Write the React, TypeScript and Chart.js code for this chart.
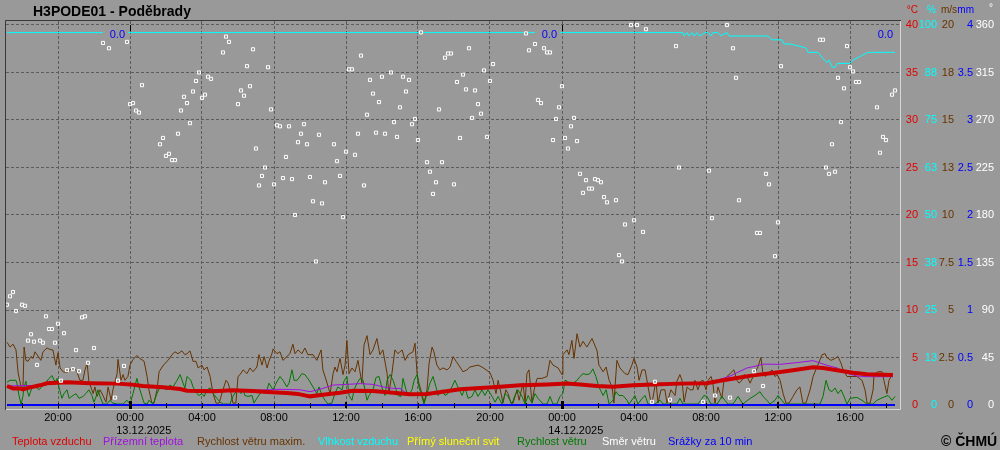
import React, { useEffect, useRef } from 'react';
import { Chart, registerables } from 'chart.js';

Chart.register(...registerables);

// ---------- DATA (time = minutes from 13.12.2025 00:00) ----------
const stationTitle = 'H3PODE01 - Poděbrady';

const timeTicks = [-360, -240, -120, 0, 120, 240, 360, 480, 600, 720, 840, 960, 1080, 1200, 1320, 1440, 1560, 1680, 1800, 1920, 2040, 2160, 2280, 2400, 2520];
const timeTickLabels = ['', '20:00', '', '00:00', '', '04:00', '', '08:00', '', '12:00', '', '16:00', '', '20:00', '', '00:00', '', '04:00', '', '08:00', '', '12:00', '', '16:00', ''];
const dateTicks = [0, 1440];
const dateLabels = ['13.12.2025', '14.12.2025'];

const tempTicks = [0, 5, 10, 15, 20, 25, 30, 35, 40];
const tempLabels = ['0', '5', '10', '15', '20', '25', '30', '35', '40'];
const humTicks = [0, 12.5, 25, 37.5, 50, 62.5, 75, 87.5, 100];
const humLabels = ['0', '13', '25', '38', '50', '63', '75', '88', '100'];
const windTicks = [0, 2.5, 5, 7.5, 10, 12.5, 15, 17.5, 20];
const windLabels = ['0', '2.5', '5', '7.5', '10', '13', '15', '18', '20'];
const rainTicks = [0, 0.5, 1, 1.5, 2, 2.5, 3, 3.5, 4];
const rainLabels = ['0', '0.5', '1', '1.5', '2', '2.5', '3', '3.5', '4'];
const dirTicks = [0, 45, 90, 135, 180, 225, 270, 315, 360];
const dirLabels = ['0', '45', '90', '135', '180', '225', '270', '315', '360'];

// Teplota vzduchu (°C)
const tempMin = [-410, -390, -367, -357, -333, -300, -277, -210, -133, -43, 0, 43, 110, 167, 190, 277, 343, 410, 457, 523, 560, 567, 600, 643, 700, 743, 810, 877, 933, 990, 1043, 1100, 1167, 1223, 1300, 1390, 1457, 1500, 1557, 1610, 1677, 1743, 1833, 1923, 1967, 2023, 2077, 2143, 2210, 2277, 2310, 2357, 2410, 2457, 2543];
const tempC = [2.0, 1.75, 1.75, 1.65, 1.86, 2.07, 2.28, 2.39, 2.3, 2.25, 2.17, 2.0, 1.86, 1.68, 1.5, 1.44, 1.54, 1.47, 1.37, 1.26, 1.16, 1.12, 0.91, 1.09, 1.3, 1.5, 1.47, 1.3, 1.12, 1.16, 1.4, 1.65, 1.79, 1.9, 2.07, 2.17, 2.25, 2.17, 2.0, 1.93, 2.07, 2.17, 2.25, 2.3, 2.56, 2.84, 3.12, 3.37, 3.65, 3.97, 3.9, 3.65, 3.4, 3.23, 3.16];

// Přízemní teplota (°C)
const groundMin = [-410, -300, -210, -133, 0, 110, 167, 190, 277, 343, 410, 457, 500, 567, 600, 643, 677, 723, 767, 810, 850, 877, 900, 917, 933, 990, 1043, 1100, 1167, 1223, 1300, 1390, 1457, 1500, 1557, 1610, 1677, 1743, 1833, 1923, 1953, 1967, 2000, 2023, 2057, 2077, 2110, 2167, 2223, 2277, 2323, 2357, 2390, 2423, 2457, 2543];
const groundC = [2.0, 2.07, 2.39, 2.3, 2.17, 1.86, 1.68, 1.62, 1.6, 1.6, 1.55, 1.6, 1.65, 1.6, 1.4, 1.75, 2.1, 2.17, 2.25, 2.17, 1.86, 1.75, 1.75, 1.33, 1.12, 1.16, 1.4, 1.65, 1.79, 1.9, 2.07, 2.17, 2.25, 2.17, 2.0, 1.93, 2.07, 2.17, 2.25, 2.3, 2.5, 2.7, 3.05, 3.4, 3.9, 4.03, 4.3, 4.28, 4.46, 4.67, 4.18, 3.9, 3.33, 3.05, 2.98, 2.98];

// Rychlost větru maxim. (m/s)
const gustMin = [-410, -400, -390, -380, -373, -363, -357, -353, -347, -340, -330, -323, -317, -310, -297, -290, -277, -263, -257, -247, -240, -233, -223, -210, -200, -187, -177, -167, -157, -150, -143, -137, -123, -117, -110, -100, -90, -80, -73, -63, -57, -43, -40, -30, -23, -17, -7, 0, 10, 23, 33, 47, 57, 63, 73, 80, 90, 97, 107, 117, 127, 140, 150, 160, 173, 183, 190, 200, 210, 220, 227, 240, 247, 257, 267, 277, 287, 297, 310, 320, 327, 337, 343, 353, 360, 367, 377, 390, 400, 410, 423, 430, 440, 447, 457, 463, 473, 477, 490, 500, 510, 523, 533, 543, 550, 560, 573, 583, 593, 610, 623, 637, 643, 657, 667, 677, 683, 690, 700, 710, 717, 723, 730, 740, 750, 760, 773, 780, 790, 800, 810, 823, 833, 843, 857, 863, 873, 883, 893, 907, 917, 927, 943, 950, 957, 963, 973, 980, 990, 997, 1007, 1013, 1023, 1033, 1043, 1057, 1067, 1077, 1087, 1100, 1110, 1123, 1133, 1147, 1160, 1173, 1187, 1200, 1210, 1220, 1227, 1237, 1243, 1253, 1260, 1270, 1277, 1290, 1297, 1310, 1317, 1323, 1330, 1340, 1347, 1357, 1373, 1390, 1400, 1410, 1427, 1440, 1443, 1457, 1463, 1473, 1480, 1490, 1500, 1510, 1523, 1540, 1557, 1563, 1577, 1587, 1597, 1607, 1613, 1623, 1633, 1650, 1660, 1673, 1680, 1690, 1697, 1707, 1717, 1727, 1737, 1743, 1753, 1760, 1770, 1783, 1790, 1803, 1817, 1823, 1833, 1840, 1847, 1857, 1867, 1877, 1883, 1893, 1903, 1910, 1920, 1927, 1937, 1943, 1950, 1960, 1973, 1980, 1990, 2000, 2013, 2023, 2030, 2040, 2047, 2057, 2067, 2077, 2093, 2103, 2110, 2117, 2127, 2140, 2150, 2157, 2167, 2177, 2187, 2197, 2210, 2223, 2233, 2243, 2253, 2267, 2277, 2290, 2307, 2317, 2323, 2337, 2350, 2360, 2370, 2377, 2390, 2407, 2423, 2440, 2450, 2457, 2467, 2477, 2480, 2493, 2507, 2513, 2523, 2530, 2540];
const gustMs = [3.3, 3.05, 3.2, 2.9, 1.7, 0.95, 0.8, 3.05, 2.35, 2.3, 2.55, 2.45, 2.8, 2.65, 2.35, 2.8, 3.0, 2.9, 2.9, 2.1, 2.75, 1.95, 1.75, 1.7, 1.85, 1.95, 1.75, 1.3, 1.3, 1.85, 2.2, 1.25, 0.6, 0.95, 0.45, 0.8, 0.5, 0.15, 0.95, 0.25, 0.8, 1.65, 2.4, 1.3, 1.6, 1.3, 1.5, 2.1, 2.4, 2.6, 2.45, 2.3, 1.5, 0.8, 0.1, 0.1, 0.8, 1.75, 2.0, 2.2, 2.35, 2.65, 2.8, 2.7, 2.85, 2.65, 2.7, 2.85, 2.3, 2.3, 1.95, 2.1, 1.85, 2.0, 1.5, 0.6, 0.1, 0.1, 0.8, 1.3, 1.15, 0.6, 0.1, 0.1, 1.5, 1.6, 1.85, 1.65, 1.95, 1.75, 2.0, 2.65, 2.1, 2.55, 1.95, 2.3, 2.7, 2.95, 2.7, 2.8, 2.35, 2.55, 2.7, 3.2, 2.7, 2.9, 2.7, 3.0, 2.65, 2.65, 2.35, 2.9, 1.85, 1.15, 0.6, 1.65, 2.0, 1.75, 2.45, 1.6, 2.1, 3.4, 1.65, 1.95, 1.75, 2.35, 1.15, 3.15, 3.65, 2.65, 2.9, 3.5, 2.65, 2.9, 1.65, 0.6, 1.65, 2.9, 2.7, 2.9, 2.35, 2.65, 2.8, 3.25, 1.65, 1.15, 0.6, 0.1, 0.8, 2.2, 3.05, 2.8, 2.1, 1.85, 1.95, 1.85, 2.0, 2.55, 2.3, 2.0, 1.75, 1.85, 2.0, 2.05, 2.1, 2.0, 1.85, 1.7, 1.3, 0.6, 1.3, 0.6, 0.1, 0.8, 0.6, 0.1, 0.1, 0.8, 0.25, 1.15, 0.1, 1.65, 1.85, 0.1, 0.8, 1.4, 1.4, 1.5, 2.35, 2.1, 1.95, 1.6, 2.65, 2.9, 2.65, 3.4, 2.45, 3.75, 3.05, 3.35, 3.05, 3.5, 2.85, 2.1, 1.75, 2.0, 1.3, 0.95, 0.1, 2.35, 1.95, 1.65, 1.6, 2.1, 2.45, 2.0, 1.3, 1.85, 1.85, 0.95, 0.1, 0.35, 1.3, 0.1, 0.8, 0.8, 0.1, 0.8, 0.5, 1.25, 1.6, 1.3, 0.15, 0.95, 0.8, 0.8, 1.3, 0.8, 1.25, 1.3, 0.8, 1.3, 1.5, 1.15, 0.1, 0.95, 0.35, 1.3, 1.5, 1.65, 1.85, 1.3, 1.15, 1.3, 1.6, 1.5, 1.15, 1.5, 2.0, 2.5, 1.65, 1.5, 1.65, 1.85, 1.5, 1.6, 1.3, 0.6, 0.1, 0.1, 0.45, 0.8, 0.95, 0.1, 0.1, 0.8, 1.5, 2.0, 2.65, 2.7, 2.5, 2.35, 2.45, 2.55, 2.2, 1.85, 1.5, 1.5, 1.5, 1.3, 0.8, 0.1, 0.1, 0.8, 1.6, 1.75, 1.75, 1.3, 0.6, 1.3, 1.6];

// Rychlost větru (m/s)
const windMin = [-410, -400, -380, -377, -370, -363, -357, -353, -347, -343, -337, -327, -323, -310, -303, -290, -277, -270, -260, -253, -247, -243, -237, -227, -220, -210, -203, -190, -180, -170, -157, -147, -137, -127, -120, -113, -107, -100, -90, -77, -67, -57, -43, -23, -10, 0, 10, 23, 30, 40, 47, 57, 63, 77, 90, 100, 110, 123, 133, 143, 157, 167, 177, 183, 190, 203, 210, 223, 230, 240, 247, 257, 267, 277, 290, 300, 310, 333, 343, 353, 360, 370, 377, 383, 393, 407, 413, 423, 433, 443, 457, 463, 477, 487, 500, 510, 523, 530, 540, 547, 557, 573, 583, 597, 610, 623, 630, 640, 650, 660, 673, 683, 693, 707, 713, 723, 730, 740, 747, 757, 767, 777, 790, 797, 810, 820, 830, 840, 850, 857, 867, 877, 887, 893, 903, 910, 920, 927, 940, 947, 957, 963, 973, 980, 990, 1000, 1010, 1020, 1027, 1040, 1050, 1060, 1073, 1083, 1093, 1107, 1117, 1127, 1140, 1150, 1160, 1173, 1183, 1193, 1207, 1217, 1227, 1240, 1250, 1260, 1273, 1283, 1293, 1307, 1317, 1327, 1340, 1350, 1360, 1377, 1390, 1400, 1410, 1423, 1433, 1443, 1450, 1457, 1467, 1477, 1490, 1500, 1510, 1523, 1533, 1543, 1553, 1563, 1577, 1587, 1597, 1610, 1620, 1630, 1643, 1657, 1663, 1677, 1683, 1693, 1707, 1717, 1727, 1750, 1767, 1777, 1823, 1833, 1843, 1893, 1903, 1913, 1923, 1937, 1957, 1973, 1983, 1993, 2010, 2027, 2043, 2067, 2083, 2100, 2110, 2123, 2133, 2150, 2160, 2173, 2183, 2300, 2310, 2320, 2330, 2340, 2350, 2360, 2370, 2380, 2390, 2400, 2423, 2440, 2457, 2477, 2490, 2510, 2527, 2540, 2550];
const windMs = [1.2, 1.3, 1.3, 1.15, 0.5, 0.05, 0.45, 0.95, 1.25, 0.8, 0.45, 0.9, 0.95, 0.9, 0.8, 1.05, 1.25, 1.4, 1.55, 1.3, 1.25, 1.4, 0.95, 0.35, 0.6, 0.8, 0.35, 0.5, 0.6, 0.35, 0.45, 0.6, 0.8, 0.5, 0.15, 0.45, 0.8, 0.45, 0.05, 0.05, 0.25, 0.1, 0.05, 0.05, 0.25, 0.05, 0.6, 1.4, 0.95, 0.45, 0.1, 0.05, 0.25, 0.05, 0.6, 0.95, 0.9, 0.8, 1.05, 0.95, 1.3, 1.6, 1.15, 0.9, 1.5, 1.3, 0.95, 0.6, 0.5, 0.6, 0.45, 0.8, 0.9, 0.6, 0.35, 0.15, 0.05, 0.05, 0.45, 0.7, 0.8, 0.6, 0.8, 0.5, 0.45, 0.5, 0.1, 0.35, 0.6, 0.7, 0.8, 1.15, 0.8, 1.15, 1.5, 1.3, 0.95, 1.15, 1.85, 1.3, 1.3, 1.65, 1.6, 1.3, 0.95, 0.6, 0.95, 0.5, 0.25, 0.05, 0.1, 0.6, 0.95, 0.8, 1.25, 1.5, 0.5, 0.25, 0.8, 1.15, 1.4, 1.3, 0.25, 0.5, 0.8, 1.45, 1.5, 0.9, 0.5, 1.3, 1.6, 1.3, 0.8, 0.5, 0.45, 1.4, 0.8, 0.5, 0.8, 1.3, 1.6, 0.95, 0.45, 0.05, 0.6, 1.15, 1.5, 0.95, 0.5, 0.8, 0.5, 0.6, 0.95, 1.3, 0.95, 0.5, 0.9, 0.35, 0.45, 0.8, 0.45, 0.8, 0.5, 0.8, 0.45, 0.15, 0.45, 0.05, 0.6, 0.45, 0.05, 0.5, 0.8, 0.45, 0.05, 0.5, 0.1, 0.6, 0.35, 0.05, 0.05, 0.45, 0.05, 0.05, 0.45, 0.6, 1.3, 1.25, 1.05, 1.15, 1.3, 1.5, 1.65, 1.6, 1.65, 1.9, 1.5, 0.95, 0.5, 0.8, 0.05, 0.25, 0.7, 0.5, 0.5, 0.25, 0.05, 0.35, 0.5, 0.05, 0.35, 0.5, 0.05, 0.05, 0.25, 0.05, 0.05, 0.35, 0.05, 0.05, 0.25, 0.5, 0.45, 0.05, 0.05, 0.45, 0.25, 0.05, 0.05, 0.45, 0.05, 0.35, 0.5, 0.7, 0.45, 0.25, 0.05, 0.25, 0.5, 0.25, 0.05, 0.05, 0.45, 1.3, 0.8, 0.7, 0.9, 0.6, 0.8, 0.45, 0.05, 0.35, 0.4, 0.25, 0.05, 0.05, 0.25, 0.4, 0.5, 0.25, 0.45];

// Vlhkost vzduchu (%)
const humMin = [-410, 0, 720, 1440, 1843, 1847, 1857, 1863, 1873, 1880, 1890, 1897, 1907, 1917, 1927, 1937, 1943, 1960, 1970, 1977, 1990, 1997, 2127, 2140, 2173, 2180, 2200, 2253, 2260, 2293, 2310, 2323, 2330, 2340, 2350, 2357, 2400, 2410, 2433, 2460, 2550];
const humPct = [98, 98, 98, 98, 98, 97.1, 98, 97.1, 98, 97.1, 98, 97.1, 97.5, 98, 98, 97.1, 98, 98, 97.1, 97.5, 98, 97.1, 97.1, 96.1, 96.1, 95, 95, 94, 92.8, 92.8, 91.2, 90.1, 90.8, 89, 88.8, 89.9, 89.9, 90.8, 91.7, 92.8, 92.8];

// Srážky za 10 min (mm)
const rainMin = [-410, -120, 240, 600, 960, 1320, 1680, 2040, 2400, 2550];
const rainMm = [0, 0, 0, 0, 0, 0, 0, 0, 0, 0];
// daily precipitation sums, labelled at the last sample of each day
const dailyRainEnd = [-10, 1430, 2550];
const dailyRainSum = [0.0, 0.0, 0.0];

// Směr větru (°)
const dirMin = [-410, -400, -390, -380, -360, -350, -340, -330, -320, -310, -300, -290, -280, -270, -260, -250, -240, -230, -220, -210, -190, -180, -170, -160, -150, -140, -120, -90, -70, -50, -40, -20, -10, 0, 10, 20, 30, 40, 100, 110, 120, 130, 140, 150, 160, 170, 180, 190, 200, 210, 220, 230, 240, 250, 260, 270, 310, 320, 330, 360, 370, 380, 390, 400, 410, 420, 430, 440, 450, 460, 470, 480, 490, 500, 510, 520, 530, 540, 550, 560, 570, 580, 590, 600, 610, 620, 630, 640, 650, 680, 690, 700, 710, 720, 730, 740, 750, 760, 770, 780, 790, 800, 810, 820, 830, 840, 850, 870, 880, 890, 900, 910, 920, 930, 940, 950, 960, 970, 990, 1000, 1010, 1020, 1030, 1040, 1050, 1060, 1070, 1080, 1090, 1100, 1110, 1120, 1130, 1140, 1150, 1160, 1170, 1180, 1190, 1200, 1210, 1320, 1330, 1350, 1360, 1370, 1380, 1390, 1400, 1410, 1420, 1430, 1440, 1450, 1460, 1470, 1480, 1490, 1500, 1510, 1520, 1530, 1540, 1550, 1560, 1570, 1580, 1590, 1620, 1630, 1640, 1650, 1670, 1680, 1690, 1710, 1720, 1740, 1750, 1800, 1820, 1830, 1910, 1930, 1940, 1950, 1990, 2000, 2010, 2020, 2030, 2060, 2080, 2090, 2100, 2110, 2120, 2130, 2150, 2160, 2170, 2300, 2310, 2320, 2330, 2340, 2350, 2360, 2370, 2380, 2390, 2400, 2410, 2420, 2430, 2490, 2500, 2510, 2520, 2540, 2550];
const dirDeg = [95, 103, 107, 89, 95, 94, 61, 67, 60, 38, 61, 59, 84, 72, 72, 59, 77, 23, 68, 33, 34, 52, 32, 83, 84, 40, 54, 343, 338, 7, 23, 37, 344, 285, 286, 279, 277, 303, 247, 253, 236, 238, 232, 232, 257, 279, 292, 286, 267, 297, 307, 315, 291, 294, 311, 309, 334, 349, 344, 285, 298, 293, 321, 302, 337, 243, 208, 217, 225, 320, 280, 209, 265, 264, 215, 235, 264, 214, 180, 249, 257, 266, 247, 216, 193, 136, 256, 191, 211, 247, 231, 217, 178, 240, 318, 318, 237, 257, 331, 208, 275, 308, 295, 258, 287, 311, 257, 315, 268, 254, 282, 311, 297, 308, 266, 271, 251, 353, 230, 221, 200, 211, 280, 230, 329, 333, 333, 209, 306, 253, 313, 299, 338, 272, 298, 285, 276, 317, 254, 307, 323, 352, 336, 342, 289, 286, 338, 334, 334, 251, 271, 282, 302, 253, 243, 264, 272, 250, 219, 201, 213, 205, 205, 214, 213, 211, 197, 192, 194, 142, 136, 171, 360, 175, 360, 164, 356, 3, 22, 5, 340, 225, 3, 222, 177, 9, 360, 7, 338, 310, 194, 14, 32, 163, 163, 18, 219, 209, 141, 173, 321, 346, 346, 225, 219, 247, 221, 310, 268, 300, 340, 320, 316, 306, 306, 282, 239, 254, 251, 294, 298];

const legendLabels = ['Teplota vzduchu', 'Přízemní teplota', 'Rychlost větru maxim.', 'Vlhkost vzduchu', 'Přímý sluneční svit', 'Rychlost větru', 'Směr větru', 'Srážky za 10 min'];
const axisHeaders = ['°C', '%', 'm/s', 'mm', '°'];
const copyright = '© ČHMÚ';

// ---------- STYLE ----------
const FAMILY = "'Liberation Sans', Arial, sans-serif";
const FONT = { family: FAMILY, size: 11 };
const BG = '#999999';
const GRID = '#5c5c5c';
const RED = '#e00000';
const RED_LINE = '#cc0000';
const PURPLE = '#a010e0';
const BROWN = '#663300';
const CYAN = '#00ffff';
const YELLOW = '#ffff00';
const GREEN = '#007800';
const WHITE = '#ffffff';
const BLUE = '#0000ff';
const legendColors = [RED, PURPLE, BROWN, CYAN, YELLOW, GREEN, WHITE, BLUE];
const legendX = [12, 103, 197, 318, 407, 517, 602, 668];
const headerColors = [RED, CYAN, BROWN, BLUE, WHITE];
const headerShift = [0, -1, 3, 1, -1];

const X_MIN = -1240 / 3;
const X_MAX = 7700 / 3;
const span = (lo: number, hi: number) => ({ min: lo - ((hi - lo) * 4) / 380, max: hi + ((hi - lo) * 4) / 380 });

const pts = (xs: number[], ys: number[]) => xs.map((x, i) => ({ x, y: ys[i] }));

const yAxis = (
  lo: number, hi: number, ticksArr: number[], labels: string[], color: string,
  width: number, padding: number, weight: number, grid: boolean,
) => ({
  type: 'linear' as const,
  position: 'right' as const,
  weight,
  ...span(lo, hi),
  afterBuildTicks: (s: any) => { s.ticks = ticksArr.map((v) => ({ value: v })); },
  afterFit: (s: any) => { s.width = width; },
  grid: grid
    ? { display: true, drawTicks: false, lineWidth: 1, color: (c: any) => (c.tick && c.tick.value > 0 ? GRID : 'rgba(0,0,0,0)') }
    : { display: false, drawTicks: false },
  border: { display: false, dash: [3, 2] },
  ticks: { color, font: FONT, padding, crossAlign: 'far' as const, autoSkip: false, callback: (_v: any, i: number) => labels[i] },
});

const decor = {
  id: 'decor',
  beforeDraw(chart: any) {
    const { ctx, width, height } = chart;
    ctx.save();
    ctx.fillStyle = BG;
    ctx.fillRect(0, 0, width, height);
    ctx.restore();
  },
  afterDatasetsDraw(chart: any) {
    const { ctx, chartArea: a, scales } = chart;
    const xs = scales.x;
    ctx.save();
    // daily precipitation sums
    ctx.font = `11px ${FAMILY}`;
    ctx.textAlign = 'right';
    ctx.textBaseline = 'alphabetic';
    dailyRainEnd.forEach((m, i) => {
      const r = Math.round(xs.getPixelForValue(m)) - 2;
      ctx.fillStyle = BG;
      ctx.fillRect(r - 22, a.top + 8, 25, 10);
      ctx.fillStyle = BLUE;
      ctx.fillText(dailyRainSum[i].toFixed(1), r, a.top + 17);
    });
    // frame
    ctx.lineWidth = 1;
    ctx.strokeStyle = '#383838';
    ctx.beginPath();
    ctx.moveTo(a.left - 0.5, a.bottom + 1);
    ctx.lineTo(a.left - 0.5, a.top - 0.5);
    ctx.lineTo(a.right + 1, a.top - 0.5);
    ctx.stroke();
    ctx.strokeStyle = '#d6d6d6';
    ctx.beginPath();
    ctx.moveTo(a.left, a.bottom + 0.5);
    ctx.lineTo(a.right + 0.5, a.bottom + 0.5);
    ctx.lineTo(a.right + 0.5, a.top);
    ctx.stroke();
    // time ticks inside the plot
    ctx.fillStyle = '#000';
    timeTicks.forEach((m) => {
      const x = Math.round(xs.getPixelForValue(m));
      const d = ((m % 1440) + 1440) % 1440;
      if (d === 0) {
        ctx.fillRect(x - 1, a.bottom - 8, 3, 8);
        ctx.fillRect(x, a.top + 4, 1, 6);
      } else if (d === 720) {
        ctx.fillRect(x - 1, a.bottom - 7, 2, 6);
      } else {
        ctx.fillRect(x, a.bottom - 6, 1, 5);
      }
    });
    ctx.restore();
  },
  afterDraw(chart: any) {
    const { ctx, scales } = chart;
    const xs = scales.x;
    ctx.save();
    // title
    ctx.fillStyle = '#000';
    ctx.font = `bold 14px ${FAMILY}`;
    ctx.textAlign = 'left';
    ctx.textBaseline = 'alphabetic';
    ctx.fillText(stationTitle, 33, 16);
    // dates under midnight labels (left aligned with the time label)
    ctx.font = `11px ${FAMILY}`;
    const half = ctx.measureText('00:00').width / 2;
    dateTicks.forEach((m, i) => {
      ctx.fillText(dateLabels[i], xs.getPixelForValue(m) - half, 434);
    });
    // axis unit headers
    ctx.textAlign = 'right';
    ctx.font = `10px ${FAMILY}`;
    ['yT', 'yH', 'yW', 'yP', 'yD'].forEach((id, i) => {
      ctx.fillStyle = headerColors[i];
      const s = scales[id];
      ctx.fillText(axisHeaders[i], s.right + headerShift[i], id === 'yD' ? 11 : 13);
    });
    // legend
    ctx.font = `11px ${FAMILY}`;
    ctx.textAlign = 'left';
    legendLabels.forEach((t, i) => {
      ctx.fillStyle = legendColors[i];
      ctx.fillText(t, legendX[i], 445);
    });
    ctx.fillStyle = '#000';
    ctx.font = `bold 14px ${FAMILY}`;
    ctx.fillText(copyright, 941, 446);
    ctx.restore();
  },
};

export default function App() {
  const ref = useRef<HTMLCanvasElement>(null);
  useEffect(() => {
    if (!ref.current) return;
    const chart = new Chart(ref.current, {
      type: 'line',
      data: {
        datasets: [
          {
            label: 'Směr větru', data: pts(dirMin, dirDeg), yAxisID: 'yD', order: 0, showLine: false,
            pointStyle: 'rect', pointRadius: 2.2, pointBorderWidth: 1, pointBorderColor: WHITE, pointBackgroundColor: BG,
          },
          { label: 'Teplota vzduchu', data: pts(tempMin, tempC), yAxisID: 'yT', order: 1, borderColor: RED_LINE, borderWidth: 4, pointRadius: 0 },
          { label: 'Přízemní teplota', data: pts(groundMin, groundC), yAxisID: 'yT', order: 2, borderColor: PURPLE, borderWidth: 1, pointRadius: 0 },
          { label: 'Srážky za 10 min', data: pts(rainMin, rainMm), yAxisID: 'yP', order: 3, borderColor: BLUE, borderWidth: 2, pointRadius: 0 },
          { label: 'Rychlost větru', data: pts(windMin, windMs), yAxisID: 'yW', order: 4, borderColor: GREEN, borderWidth: 1, pointRadius: 0 },
          { label: 'Rychlost větru maxim.', data: pts(gustMin, gustMs), yAxisID: 'yW', order: 5, borderColor: BROWN, borderWidth: 1, pointRadius: 0 },
          { label: 'Vlhkost vzduchu', data: pts(humMin, humPct), yAxisID: 'yH', order: 6, borderColor: CYAN, borderWidth: 1, pointRadius: 0 },
        ],
      },
      options: {
        responsive: false,
        maintainAspectRatio: false,
        animation: false,
        devicePixelRatio: 1,
        events: [],
        elements: { line: { tension: 0 } },
        layout: { padding: { left: 6, right: 6, top: 21, bottom: 0 } },
        plugins: { legend: { display: false }, tooltip: { enabled: false }, title: { display: false } },
        scales: {
          x: {
            type: 'linear',
            position: 'bottom',
            min: X_MIN,
            max: X_MAX,
            afterBuildTicks: (s: any) => { s.ticks = timeTicks.map((v) => ({ value: v })); },
            afterFit: (s: any) => { s.height = 41; },
            grid: { drawTicks: false, lineWidth: 1, color: (c: any) => (c.tick && ((c.tick.value % 240) + 240) % 240 === 0 ? GRID : 'rgba(0,0,0,0)') },
            border: { display: false, dash: [3, 2] },
            ticks: { color: '#000', font: FONT, padding: 2, autoSkip: false, maxRotation: 0, callback: (_v: any, i: number) => timeTickLabels[i] },
          },
          yT: yAxis(0, 40, tempTicks, tempLabels, RED, 18, 6, 1, true),
          yH: yAxis(0, 100, humTicks, humLabels, CYAN, 19, 1, 2, false),
          yW: yAxis(0, 20, windTicks, windLabels, BROWN, 17, 2, 3, false),
          yP: yAxis(0, 4, rainTicks, rainLabels, BLUE, 19, 4, 4, false),
          yD: yAxis(0, 360, dirTicks, dirLabels, WHITE, 21, 3, 5, false),
        } as any,
      },
      plugins: [decor],
    } as any);
    return () => chart.destroy();
  }, []);
  return (
    <div style={{ position: 'absolute', left: 0, top: 0, width: 1000, height: 450, background: BG }}>
      <canvas ref={ref} width={1000} height={450} style={{ display: 'block' }} />
    </div>
  );
}
